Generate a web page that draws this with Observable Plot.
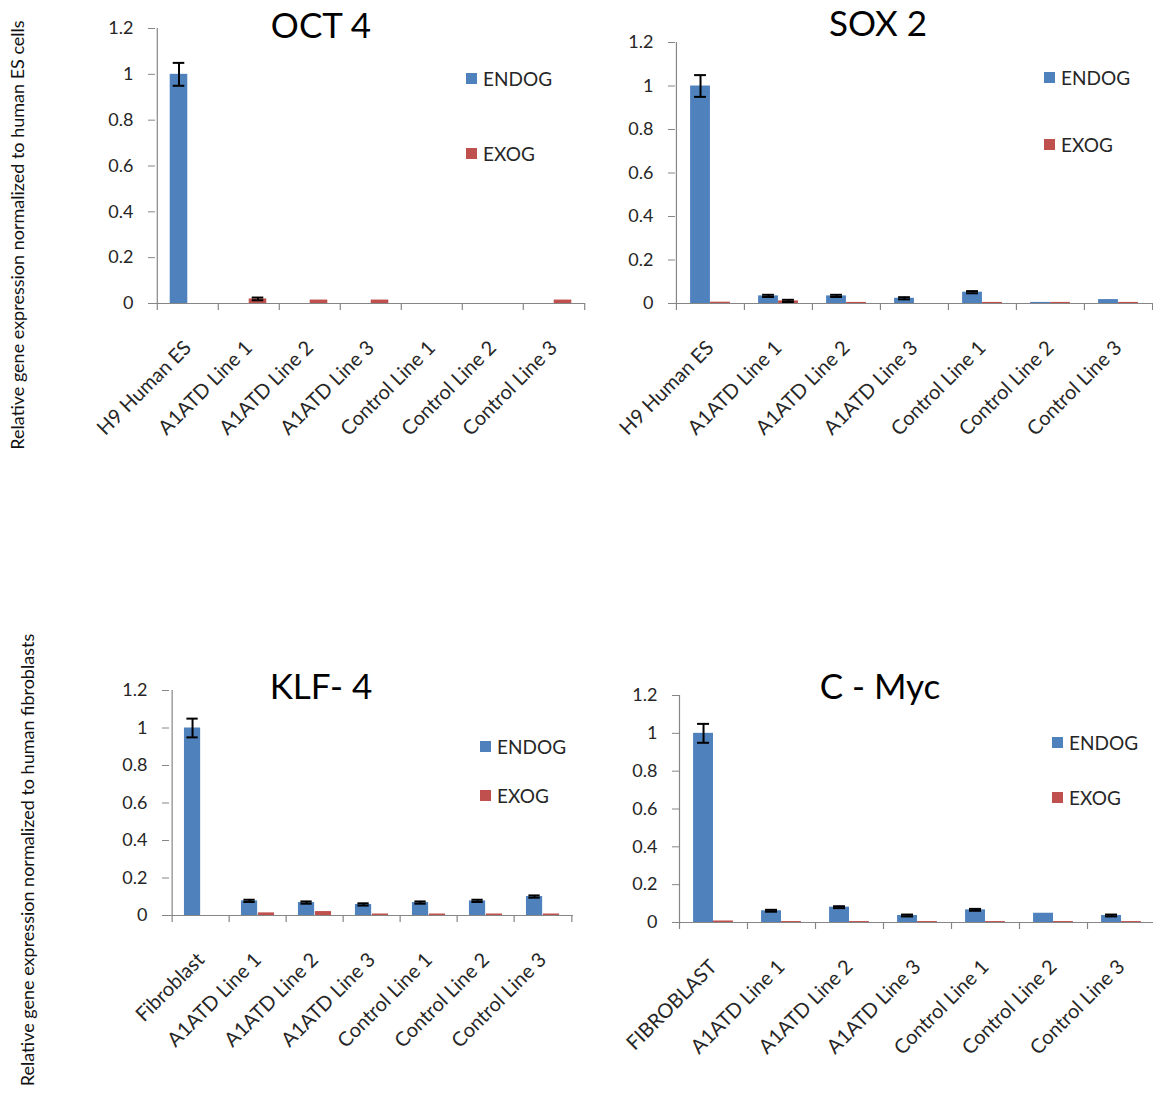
<!DOCTYPE html>
<html>
<head>
<meta charset="utf-8">
<script src="https://cdn.jsdelivr.net/npm/d3@7"></script>
<script src="https://cdn.jsdelivr.net/npm/@observablehq/plot@0.6"></script>
<style>
  body { margin: 0; background: #fff; font-family: Lato, "Open Sans", sans-serif; }
  #page { position: relative; width: 1153px; height: 1095px; overflow: hidden; }
  .panel { position: absolute; }
  .panel svg { overflow: visible; max-width: none !important; }
  .title { position: absolute; font-size: 35px; color: #000; transform: translate(-50%, -50%); white-space: nowrap; line-height: 1; }
  .legend { position: absolute; font-size: 19px; color: #262626; display: flex; align-items: center; white-space: nowrap; line-height: 1; }
  .legend i { display: inline-block; width: 11px; height: 11px; margin-right: 6px; }
  .ylab { position: absolute; font-size: 18px; color: #111; white-space: nowrap; transform: translate(-50%, -50%) rotate(-90deg); }
</style>
</head>
<body>
<div id="page"></div>
<script>
// Cell lines on the x axis
const esCategories = ["H9 Human ES", "A1ATD Line 1", "A1ATD Line 2", "A1ATD Line 3", "Control Line 1", "Control Line 2", "Control Line 3"];
const klfCategories = ["Fibroblast", "A1ATD Line 1", "A1ATD Line 2", "A1ATD Line 3", "Control Line 1", "Control Line 2", "Control Line 3"];
const mycCategories = ["FIBROBLAST", "A1ATD Line 1", "A1ATD Line 2", "A1ATD Line 3", "Control Line 1", "Control Line 2", "Control Line 3"];
const seriesNames = ["ENDOG", "EXOG"];
const yTicks = [0, 0.2, 0.4, 0.6, 0.8, 1, 1.2];

// OCT 4 (relative to human ES cells)
const oct4Endog    = [1.00, 0, 0, 0, 0, 0, 0];
const oct4EndogErr = [0.05, 0, 0, 0, 0, 0, 0];
const oct4Exog     = [0, 0.020, 0.015, 0.015, 0, 0, 0.015];
const oct4ExogErr  = [0, 0.006, 0, 0, 0, 0, 0];

// SOX 2 (relative to human ES cells)
const sox2Endog    = [1.00, 0.035, 0.035, 0.024, 0.052, 0.005, 0.018];
const sox2EndogErr = [0.05, 0.005, 0.005, 0.005, 0.005, 0, 0];
const sox2Exog     = [0.006, 0.012, 0.005, 0, 0.005, 0.005, 0.005];
const sox2ExogErr  = [0, 0.005, 0, 0, 0, 0, 0];

// KLF-4 (relative to human fibroblasts)
const klf4Endog    = [1.00, 0.078, 0.069, 0.059, 0.069, 0.078, 0.101];
const klf4EndogErr = [0.05, 0.006, 0.006, 0.006, 0.006, 0.006, 0.006];
const klf4Exog     = [0, 0.014, 0.021, 0.008, 0.008, 0.008, 0.008];
const klf4ExogErr  = [0, 0, 0, 0, 0, 0, 0];

// C-Myc (relative to human fibroblasts)
const mycEndog    = [1.00, 0.062, 0.081, 0.037, 0.067, 0.049, 0.037];
const mycEndogErr = [0.05, 0.005, 0.005, 0.005, 0.005, 0, 0.005];
const mycExog     = [0.008, 0.005, 0.005, 0.005, 0.005, 0.005, 0.005];
const mycExogErr  = [0, 0, 0, 0, 0, 0, 0];

const BLUE = "#4F81BD", RED = "#C0504D", AXIS = "#868686", INK = "#262626";
const page = document.getElementById("page");

function addDiv(cls, html, style) {
  const el = document.createElement("div");
  el.className = cls;
  el.innerHTML = html;
  Object.assign(el.style, style);
  page.appendChild(el);
  return el;
}

function drawPanel(cfg) {
  const rows = cfg.cats.flatMap((c, i) => [
    {cat: c, series: seriesNames[0], value: cfg.endog[i], err: cfg.endogErr[i]},
    {cat: c, series: seriesNames[1], value: cfg.exog[i], err: cfg.exogErr[i]}
  ]);
  const f = cfg.frame;
  const m = {top: 20, right: 20, bottom: 170, left: 70};
  const W = f.width + m.left + m.right, H = f.height + m.top + m.bottom;
  const bw = f.width / cfg.cats.length;
  const outer = 0.207 * bw, half = 0.5 * bw;
  const center = {ENDOG: (outer + half) / 2, EXOG: bw - (outer + half) / 2};
  const cap = 6;
  const pxPerUnit = f.height / 1.2;
  const tickLen = 7 / pxPerUnit;

  const errMarks = seriesNames.flatMap(s => {
    const d = rows.filter(r => r.series === s && r.err > 0);
    return [
      Plot.ruleX(d, {x: "cat", y1: r => r.value - r.err, y2: r => r.value + r.err, dx: center[s] - half, stroke: "#000", strokeWidth: 2}),
      Plot.tickY(d, {x: "cat", y: r => r.value + r.err, insetLeft: center[s] - cap, insetRight: bw - center[s] - cap, stroke: "#000", strokeWidth: 2}),
      Plot.tickY(d, {x: "cat", y: r => r.value - r.err, insetLeft: center[s] - cap, insetRight: bw - center[s] - cap, stroke: "#000", strokeWidth: 2})
    ];
  });

  const chart = Plot.plot({
    width: W,
    height: H,
    marginTop: m.top, marginRight: m.right, marginBottom: m.bottom, marginLeft: m.left,
    style: {fontFamily: "Lato, 'Open Sans', sans-serif", background: "transparent", overflow: "visible", maxWidth: "none"},
    x: {type: "band", domain: cfg.cats, padding: 0},
    y: {domain: [0, 1.2]},
    marks: [
      Plot.barY(rows.filter(r => r.series === "ENDOG"), {x: "cat", y: "value", fill: BLUE, insetLeft: outer, insetRight: half}),
      Plot.barY(rows.filter(r => r.series === "EXOG"), {x: "cat", y: "value", fill: RED, insetLeft: half, insetRight: outer}),
      ...errMarks,
      // axis lines
      Plot.ruleY([0], {stroke: AXIS, strokeWidth: 1.2}),
      Plot.ruleX([cfg.cats[0]], {x: d => d, dx: -half, stroke: AXIS, strokeWidth: 1.2}),
      // category boundary ticks below the x axis
      Plot.ruleX(cfg.cats, {x: d => d, dx: -half, y1: 0, y2: -tickLen, stroke: AXIS, strokeWidth: 1.2}),
      Plot.ruleX([cfg.cats[cfg.cats.length - 1]], {x: d => d, dx: half, y1: 0, y2: -tickLen, stroke: AXIS, strokeWidth: 1.2}),
      Plot.axisY({ticks: yTicks, tickFormat: d => String(+d.toFixed(1)), tickSize: 7, tickPadding: 15, fontSize: 18, stroke: AXIS, fill: INK, label: null}),
      Plot.axisX({tickSize: 0, tickRotate: -45, tickPadding: 41, fontSize: 20, fill: INK, label: null})
    ]
  });

  const holder = document.createElement("div");
  holder.className = "panel";
  holder.style.left = (f.left - m.left) + "px";
  holder.style.top = (f.top - m.top) + "px";
  holder.style.width = W + "px";
  holder.style.height = H + "px";
  holder.appendChild(chart);
  page.appendChild(holder);

  addDiv("title", cfg.title, {left: cfg.titleAt[0] + "px", top: cfg.titleAt[1] + "px"});
  addDiv("legend", `<i style="background:${BLUE}"></i>${seriesNames[0]}`, {left: cfg.legendAt[0] + "px", top: cfg.legendAt[1] + "px"});
  addDiv("legend", `<i style="background:${RED}"></i>${seriesNames[1]}`, {left: cfg.legendAt[0] + "px", top: cfg.legendAt[2] + "px"});
}

drawPanel({title: "OCT 4", cats: esCategories, endog: oct4Endog, endogErr: oct4EndogErr, exog: oct4Exog, exogErr: oct4ExogErr,
  frame: {left: 155, top: 28, width: 430, height: 275}, titleAt: [321, 24], legendAt: [466, 69, 144]});
drawPanel({title: "SOX 2", cats: esCategories, endog: sox2Endog, endogErr: sox2EndogErr, exog: sox2Exog, exogErr: sox2ExogErr,
  frame: {left: 675, top: 42, width: 477, height: 261}, titleAt: [878, 22], legendAt: [1044, 68, 135]});
drawPanel({title: "KLF- 4", cats: klfCategories, endog: klf4Endog, endogErr: klf4EndogErr, exog: klf4Exog, exogErr: klf4ExogErr,
  frame: {left: 169, top: 690, width: 404, height: 225}, titleAt: [321, 685], legendAt: [480, 737, 786]});
drawPanel({title: "C - Myc", cats: mycCategories, endog: mycEndog, endogErr: mycEndogErr, exog: mycExog, exogErr: mycExogErr,
  frame: {left: 679, top: 695, width: 476, height: 227}, titleAt: [880, 685], legendAt: [1052, 733, 788]});

addDiv("ylab", "Relative gene expression normalized to human ES cells", {left: "17px", top: "235px"});
addDiv("ylab", "Relative gene expression normalized to human fibroblasts", {left: "27px", top: "860px"});
</script>
</body>
</html>
